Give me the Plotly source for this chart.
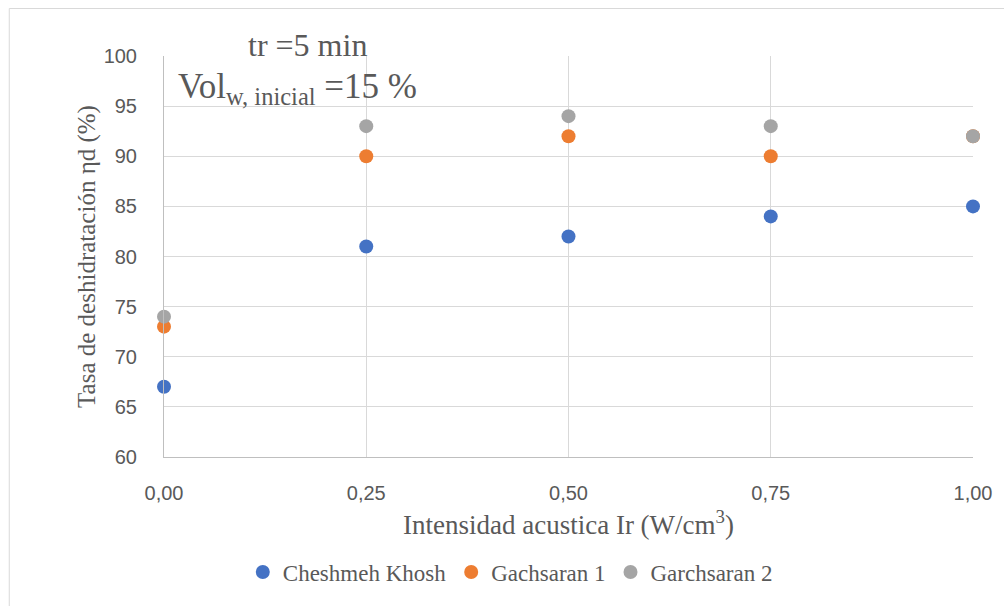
import plotly.graph_objects as go

x_vals = [0.0, 0.25, 0.5, 0.75, 1.0]
cheshmeh = [67, 81, 82, 84, 85]
gach1 = [73, 90, 92, 90, 92]
gach2 = [74, 93, 94, 93, 92]
series_names = ["Cheshmeh Khosh", "Gachsaran 1", "Garchsaran 2"]
colors = ["#4472C4", "#ED7D31", "#A5A5A5"]
x_ticks = [0.0, 0.25, 0.5, 0.75, 1.0]
x_tick_labels = ["0,00", "0,25", "0,50", "0,75", "1,00"]
y_ticks = [60, 65, 70, 75, 80, 85, 90, 95, 100]

W, H = 1004, 606
L, R, T, B = 164, 27, 56, 149
pw, ph = W - L - R, H - T - B

def px(x):
    return (x - L) / pw

def py(y):
    return (H - B - y) / ph

SERIF = "Liberation Serif, Times New Roman, serif"
SANS = "Liberation Sans, Arial, sans-serif"
GREY = "#595959"

fig = go.Figure()
for name, vals, c in zip(series_names, [cheshmeh, gach1, gach2], colors):
    fig.add_trace(go.Scatter(x=x_vals, y=vals, mode="markers", name=name,
                             marker=dict(color=c, size=14), cliponaxis=False))

tick_font = dict(family=SANS, size=20, color=GREY)
fig.update_layout(
    width=W, height=H,
    margin=dict(l=L, r=R, t=T, b=B),
    paper_bgcolor="white", plot_bgcolor="white",
    font=dict(family=SERIF, color=GREY),
    showlegend=True,
    legend=dict(orientation="h", x=px(512), xanchor="center", y=py(572), yanchor="middle",
                font=dict(family=SERIF, size=23, color=GREY),
                itemwidth=30, tracegroupgap=0),
    xaxis=dict(range=[0, 1], tickvals=x_ticks, ticktext=x_tick_labels,
               showgrid=True, gridcolor="#D9D9D9", gridwidth=1,
               showline=True, linecolor="#BFBFBF", linewidth=1,
               zeroline=False, ticks="",
               tickfont=tick_font, ticklabelstandoff=18,
               title=dict(text="Intensidad acustica Ir (W/cm<sup>3</sup>)",
                          font=dict(family=SERIF, size=27, color=GREY),
                          standoff=12)),
    yaxis=dict(range=[60, 100], tickvals=y_ticks,
               showgrid=True, gridcolor="#D9D9D9", gridwidth=1,
               showline=True, linecolor="#BFBFBF", linewidth=1,
               zeroline=False, ticks="",
               tickfont=tick_font, ticklabelstandoff=22,
               title=dict(text="Tasa de deshidratación ηd (%)",
                          font=dict(family=SERIF, size=25, color=GREY),
                          standoff=0)),
)

fig.add_annotation(x=px(308), y=py(45), xref="paper", yref="paper", showarrow=False,
                   text="tr =5 min", xanchor="center", yanchor="middle",
                   font=dict(family=SERIF, size=32, color=GREY))
fig.add_annotation(x=px(176), y=py(88), xref="paper", yref="paper", showarrow=False,
                   text="Vol<sub>w, inicial</sub> =15 %",
                   xanchor="left", yanchor="middle",
                   font=dict(family=SERIF, size=35, color=GREY))

fig.add_shape(type="rect", xref="paper", yref="paper",
              x0=px(8.5), x1=px(1010), y0=py(8.5), y1=py(620),
              line=dict(color="#D9D9D9", width=1), layer="below")

fig.write_html("out.html")
